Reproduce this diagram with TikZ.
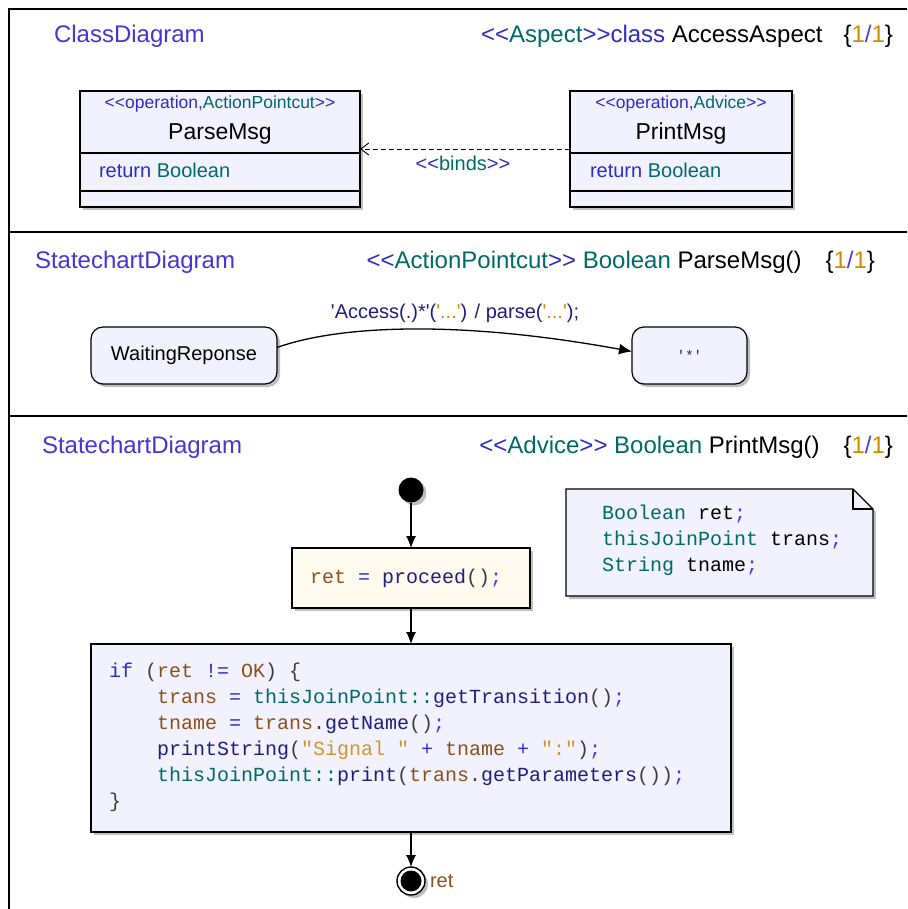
\documentclass[tikz,border=0pt]{standalone}
\usepackage{fontspec}
\setmainfont{Liberation Sans}[Ligatures=TeXOff]
\setmonofont{Liberation Mono}
\usetikzlibrary{arrows.meta,shadows}
\definecolor{hdr}{RGB}{72,52,212}
\definecolor{blu}{RGB}{45,45,195}
\definecolor{tea}{RGB}{0,105,105}
\definecolor{nav}{RGB}{30,30,125}
\definecolor{org}{RGB}{210,140,0}
\definecolor{brn}{RGB}{140,80,25}
\definecolor{strc}{RGB}{205,150,40}
\definecolor{pun}{RGB}{60,60,60}
\definecolor{semi}{RGB}{80,55,225}
\definecolor{lav}{RGB}{242,242,255}
\definecolor{crm}{RGB}{255,250,238}
\newcommand\Kb[1]{\textcolor{blu}{#1}}
\newcommand\Kt[1]{\textcolor{tea}{#1}}
\newcommand\Kn[1]{\textcolor{nav}{#1}}
\newcommand\Ko[1]{\textcolor{org}{#1}}
\newcommand\Kr[1]{\textcolor{brn}{#1}}
\newcommand\Ks[1]{\textcolor{strc}{#1}}
\newcommand\Kp[1]{\textcolor{pun}{#1}}
\newcommand\Km[1]{\textcolor{semi}{#1}}
\newcommand\setfs[1]{\fontsize{#1}{#1}\selectfont}
\tikzset{
  every node/.style={inner sep=0pt, outer sep=0pt},
  boxshadow/.style={drop shadow={shadow xshift=3pt,shadow yshift=-3pt,fill=black!25,opacity=1}},
  classbox/.style={draw, line width=1.2pt, fill=lav, boxshadow, minimum height=116pt},
  statebox/.style={draw, line width=1.2pt, fill=lav, boxshadow, rounded corners=12pt, minimum height=57pt},
  actbox/.style={draw, line width=1.2pt, boxshadow},
  frameline/.style={line width=1.8pt},
  hdrtxt/.style={font=\setfs{24}},
  flow/.style={line width=1.1pt, -{Latex[length=12pt,width=10pt]}},
  codetxt/.style={font=\ttfamily\setfs{20}, anchor=base west},
}
\begin{document}
\begin{tikzpicture}[x=1pt,y=-1pt]
\useasboundingbox (0,0) rectangle (907,909);
% frame
\draw[frameline] (9,909) -- (9,9) -- (907,9);
\draw[frameline] (9,232) -- (907,232);
\draw[frameline] (9,416) -- (907,416);

% ===== Class diagram =====
\node[hdrtxt, anchor=base west, text=hdr] (h1l) at (54,43) {ClassDiagram};
\node[hdrtxt, anchor=base east] (h1r) at (893,43) {\Kb{<<}\Kt{Aspect}\Kb{>>class} AccessAspect\hspace{21pt}\{\Ko{1}\Km{/}\Ko{1}\}};

\node[classbox, minimum width=280pt] (pm) at (220,149) {};
\draw[line width=1.2pt] (80,153) -- (360,153);
\draw[line width=1.2pt] (80,191) -- (360,191);
\node[anchor=base, font=\setfs{17.5}] (pmst) at (220,109) {\Kb{<<operation,}\Kt{ActionPointcut}\Kb{>>}};
\node[anchor=base, font=\setfs{23}] (pmnm) at (220,140) {ParseMsg};
\node[anchor=base west, font=\setfs{20}] (pmrt) at (99,178) {\Kb{return} \Kt{Boolean}};

\node[classbox, minimum width=222pt] (prm) at (681,149) {};
\draw[line width=1.2pt] (570,153) -- (792,153);
\draw[line width=1.2pt] (570,191) -- (792,191);
\node[anchor=base, font=\setfs{17.5}] (prmst) at (681,109) {\Kb{<<operation,}\Kt{Advice}\Kb{>>}};
\node[anchor=base, font=\setfs{23}] (prmnm) at (681,140) {PrintMsg};
\node[anchor=base west, font=\setfs{20}] (prmrt) at (590,178) {\Kb{return} \Kt{Boolean}};

\draw[line width=0.9pt, dash pattern=on 5pt off 3pt, -{Straight Barb[length=8pt,width=12pt]}] (prm.west |- 0,149) -- (pm.east |- 0,149);
\node[anchor=base, font=\setfs{20}] (binds) at (463,171) {\Kb{<<}\Kt{binds}\Kb{>>}};

% ===== Statechart 1 =====
\node[hdrtxt, anchor=base west, text=hdr] (h2l) at (35,268) {StatechartDiagram};
\node[hdrtxt, anchor=base east] (h2r) at (875,268) {\Kb{<<}\Kt{ActionPointcut}\Kb{>>} \Kt{Boolean} ParseMsg()\hspace{24pt}\{\Ko{1}\Km{/}\Ko{1}\}};

\node[statebox, minimum width=186pt, font=\setfs{20}] (ws) at (184,355.5) {WaitingReponse};
\node[statebox, minimum width=115pt, font=\ttfamily\setfs{14}, text=nav] (st) at (689.5,355.5) {'*'};
\draw[line width=1.3pt, -{Latex[length=13pt,width=11pt]}] ([yshift=8pt]ws.east) .. controls (340,325) and (460,320) .. ([yshift=4pt]st.west);
\node[anchor=base, font=\setfs{20}, text=nav] (trl) at (455,318) {'Access(.)*'(\Ko{'...'}) / parse(\Ko{'...'});};

% ===== Statechart 2 =====
\node[hdrtxt, anchor=base west, text=hdr] (h3l) at (42,453) {StatechartDiagram};
\node[hdrtxt, anchor=base east] (h3r) at (893,453) {\Kb{<<}\Kt{Advice}\Kb{>>} \Kt{Boolean} PrintMsg()\hspace{24pt}\{\Ko{1}\Km{/}\Ko{1}\}};

\node[circle, fill=black, minimum size=25pt, boxshadow] (init) at (411,490) {};
\node[actbox, fill=crm, minimum width=238pt, minimum height=60pt] (proc) at (411,578) {};
\node[codetxt] (proct) at (310,583) {\Kr{ret} \Kb{=} \Kn{proceed}\Kp{()}\Km{;}};

\node[actbox, fill=lav, minimum width=640pt, minimum height=188pt] (code) at (411,738) {};
\node[codetxt] (c1) at (109,677) {\Kb{if} \Kp{(}\Kr{ret} \Kb{!=} \Kr{OK}\Kp{)} \Kp{\{}};
\node[codetxt] (c2) at (157,703) {\Kr{trans} \Kb{=} \Kt{thisJoinPoint::}\Kn{getTransition}\Kp{()}\Km{;}};
\node[codetxt] (c3) at (157,729) {\Kr{tname} \Kb{=} \Kr{trans}\Kp{.}\Kn{getName}\Kp{()}\Km{;}};
\node[codetxt] (c4) at (157,755) {\Kn{printString}\Kp{(}\Ks{"Signal "} \Kb{+} \Kr{tname} \Kb{+} \Ks{":"}\Kp{)}\Km{;}};
\node[codetxt] (c5) at (157,781) {\Kt{thisJoinPoint::}\Kn{print}\Kp{(}\Kr{trans}\Kp{.}\Kn{getParameters}\Kp{())}\Km{;}};
\node[codetxt] (c6) at (109,807) {\Kp{\}}};

\node[circle, draw=black, line width=1.4pt, fill=white, minimum size=28pt, boxshadow] (fin) at (411,881) {};
\fill[black] (fin.center) circle[radius=10.5pt];
\node[anchor=west, font=\setfs{20}, text=brn] (finl) at ([xshift=5pt]fin.east) {ret};

\draw[flow] (init) -- (proc);
\draw[flow] (proc) -- (code);
\draw[flow] (code) -- (fin);

% note
\node[minimum width=307pt, minimum height=107pt] (note) at (719.5,542.5) {};
\draw[line width=1.2pt, fill=lav, boxshadow] (note.north west) -- ([xshift=-20pt]note.north east) -- ([yshift=-20pt]note.north east) -- (note.south east) -- (note.south west) -- cycle;
\draw[line width=1.2pt] ([xshift=-20pt]note.north east) -- ([xshift=-20pt,yshift=-20pt]note.north east) -- ([yshift=-20pt]note.north east);
\node[codetxt] (n1) at (602,519) {\Kt{Boolean} ret\Km{;}};
\node[codetxt] (n2) at (602,545) {\Kt{thisJoinPoint} trans\Km{;}};
\node[codetxt] (n3) at (602,571) {\Kt{String} tname\Km{;}};
\end{tikzpicture}
\end{document}
